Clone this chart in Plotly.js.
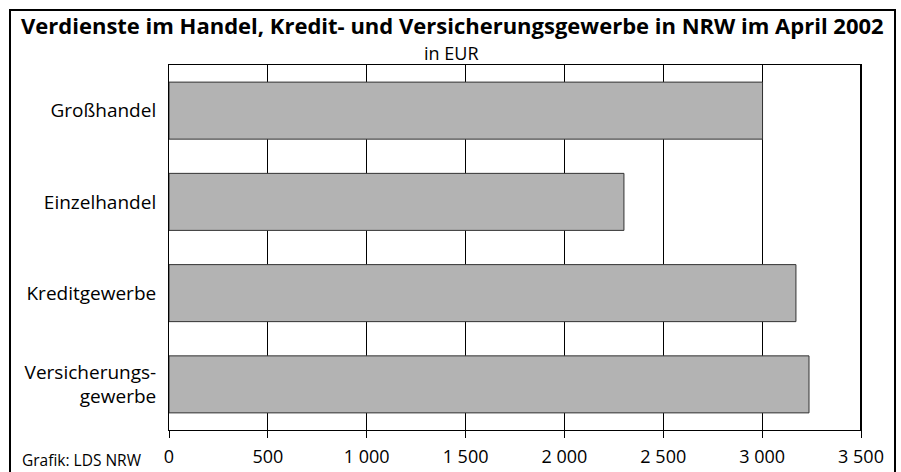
<!DOCTYPE html>
<html><head><meta charset="utf-8">
<script src="https://cdn.plot.ly/plotly-3.0.1.min.js"></script>
<style>html,body{margin:0;padding:0;background:#fff}#chart{width:901px;height:472px}</style>
</head><body><div id="chart"></div>
<script>
const categories = ["Großhandel", "Einzelhandel", "Kreditgewerbe", "Versicherungs-<br>gewerbe"];
const values = [3002, 2301, 3171, 3237];
const tickValues = [0, 500, 1000, 1500, 2000, 2500, 3000, 3500];
const tickLabels = ["0", "500", "1 000", "1 500", "2 000", "2 500", "3 000", "3 500"];
const titleText = "Verdienste im Handel, Kredit- und Versicherungsgewerbe in NRW im April 2002";
const subtitleText = "in EUR";
const sourceText = "Grafik: LDS NRW";

const font = "Open Sans, Noto Sans, sans-serif";
const trace = {
  type: "bar", orientation: "h",
  x: values, y: categories,
  marker: {color: "#b3b3b3", line: {color: "#333333", width: 1}},
  hoverinfo: "none"
};
const layout = {
  width: 901, height: 472,
  margin: {l: 169, r: 40, t: 65, b: 42, pad: 0},
  paper_bgcolor: "#fff", plot_bgcolor: "#fff",
  font: {family: font, color: "#000", size: 15},
  showlegend: false,
  bargap: 0.375,
  xaxis: {
    range: [0, 3500], tickvals: tickValues, ticktext: tickLabels,
    showgrid: true, gridcolor: "#000", gridwidth: 1,
    showline: true, linecolor: "#000", linewidth: 1, mirror: true,
    ticks: "outside", ticklen: 7, tickcolor: "#000", tickwidth: 1,
    tickfont: {size: 18, family: font}, ticklabelstandoff: 3,
    zeroline: false, fixedrange: true
  },
  yaxis: {
    autorange: "reversed", categoryorder: "array", categoryarray: categories,
    showgrid: false, showline: true, linecolor: "#000", linewidth: 1, mirror: true,
    ticks: "", tickfont: {size: 19, family: font}, ticklabelstandoff: 8,
    fixedrange: true
  },
  shapes: [
    {type: "rect", xref: "paper", yref: "paper", x0: 1, x1: 1, y0: 0, y1: 1,
     line: {color: "#000", width: 2}},
    {type: "rect", xref: "paper", yref: "paper",
     x0: (10 - 169) / 692, x1: (895 - 169) / 692, y0: -(480 - 430) / 365, y1: (430 - 10) / 365,
     line: {color: "#000", width: 2}}
  ],
  annotations: [
    {text: "<b>" + titleText + "</b>", xref: "paper", yref: "paper",
     x: (452 - 169) / 692, y: (430 - 25) / 365, xanchor: "center", yanchor: "middle",
     showarrow: false, font: {size: 22, family: font}},
    {text: subtitleText, xref: "paper", yref: "paper",
     x: (451 - 169) / 692, y: (430 - 53.5) / 365, xanchor: "center", yanchor: "middle",
     showarrow: false, font: {size: 18, family: font}},
    {text: sourceText, xref: "paper", yref: "paper",
     x: (20 - 169) / 692, y: (430 - 460) / 365, xanchor: "left", yanchor: "middle",
     showarrow: false, font: {size: 15.5, family: font}}
  ]
};
Plotly.newPlot("chart", [trace], layout, {displayModeBar: false, staticPlot: true});
</script></body></html>
